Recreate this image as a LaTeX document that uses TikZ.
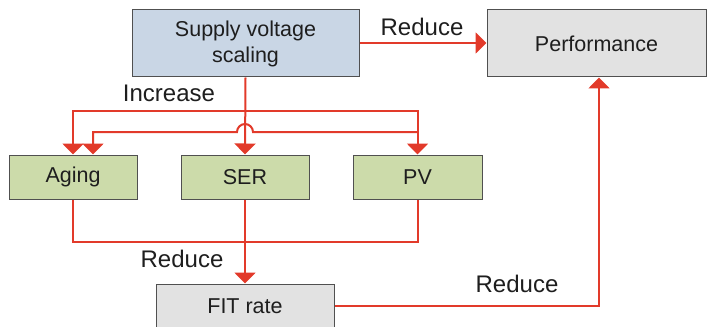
\documentclass[tikz,border=0pt]{standalone}
\usepackage{fontspec}
\setmainfont{Liberation Sans}
\usetikzlibrary{arrows.meta}
\definecolor{redl}{RGB}{226,58,42}
\definecolor{bluefill}{RGB}{201,214,229}
\definecolor{greenfill}{RGB}{204,219,170}
\definecolor{grayfill}{RGB}{226,226,226}
\definecolor{borderc}{RGB}{80,80,80}
\definecolor{textc}{RGB}{30,30,30}
\begin{document}
\begin{tikzpicture}[x=1pt,y=-1pt,
  box/.style={draw=borderc,line width=1pt,inner sep=0pt,text=textc,align=center,
    font=\fontsize{21.5}{26}\selectfont},
  lbl/.style={text=textc,inner sep=0pt,font=\fontsize{24}{28}\selectfont},
  wire/.style={draw=redl,line width=2pt},
  arr/.style={wire,-{Triangle[width=21pt,length=11pt]}}]
\useasboundingbox (0,0) rectangle (708,326);
\node[box,fill=bluefill,minimum width=227pt,minimum height=67pt] (sup) at (245.5,43.5) {Supply voltage\\scaling};
\node[box,fill=grayfill,minimum width=219pt,minimum height=67pt] (perf) at (596.5,43.5) {Performance};
\node[box,fill=greenfill,minimum width=128pt,minimum height=44pt] (aging) at (73,177) {Aging};
\node[box,fill=greenfill,minimum width=128pt,minimum height=44pt] (ser) at (245,177) {SER};
\node[box,fill=greenfill,minimum width=129pt,minimum height=44pt] (pv) at (417.5,177) {PV};
\node[box,fill=grayfill,minimum width=178pt,minimum height=44pt] (fit) at (245,306) {FIT rate};
\coordinate (j1) at (245,111);
\coordinate (k1) at (417.5,132);
\coordinate (k2) at (253,132);
\coordinate (k3) at (93,132);
\coordinate (j2) at (245,242);
\coordinate (pin) at (599,77.5);
% top
\draw[arr] (sup.east |- 0,43) -- (perf.west |- 0,43);
% increase branches
\draw[arr] (sup.south) -- (ser.north);
\draw[arr] (j1) -| (aging.north);
\draw[arr] (j1) -| (pv.north);
\draw[arr] (k1) -- (k2) arc[start angle=0,end angle=-180,radius=8] -- (k3) -- (k3 |- aging.north);
% reduce to FIT
\draw[wire] (aging.south) |- (j2) -| (pv.south);
\draw[wire] (ser.south) -- (j2);
\draw[arr] (j2) -- (fit.north);
\draw[arr] (fit.east) -| (pin);
% labels
\node[lbl] (l1) at (422,27) {Reduce};
\node[lbl] (l2) at (169,93) {Increase};
\node[lbl] (l3) at (182,259) {Reduce};
\node[lbl] (l4) at (517,284) {Reduce};
\end{tikzpicture}
\end{document}
